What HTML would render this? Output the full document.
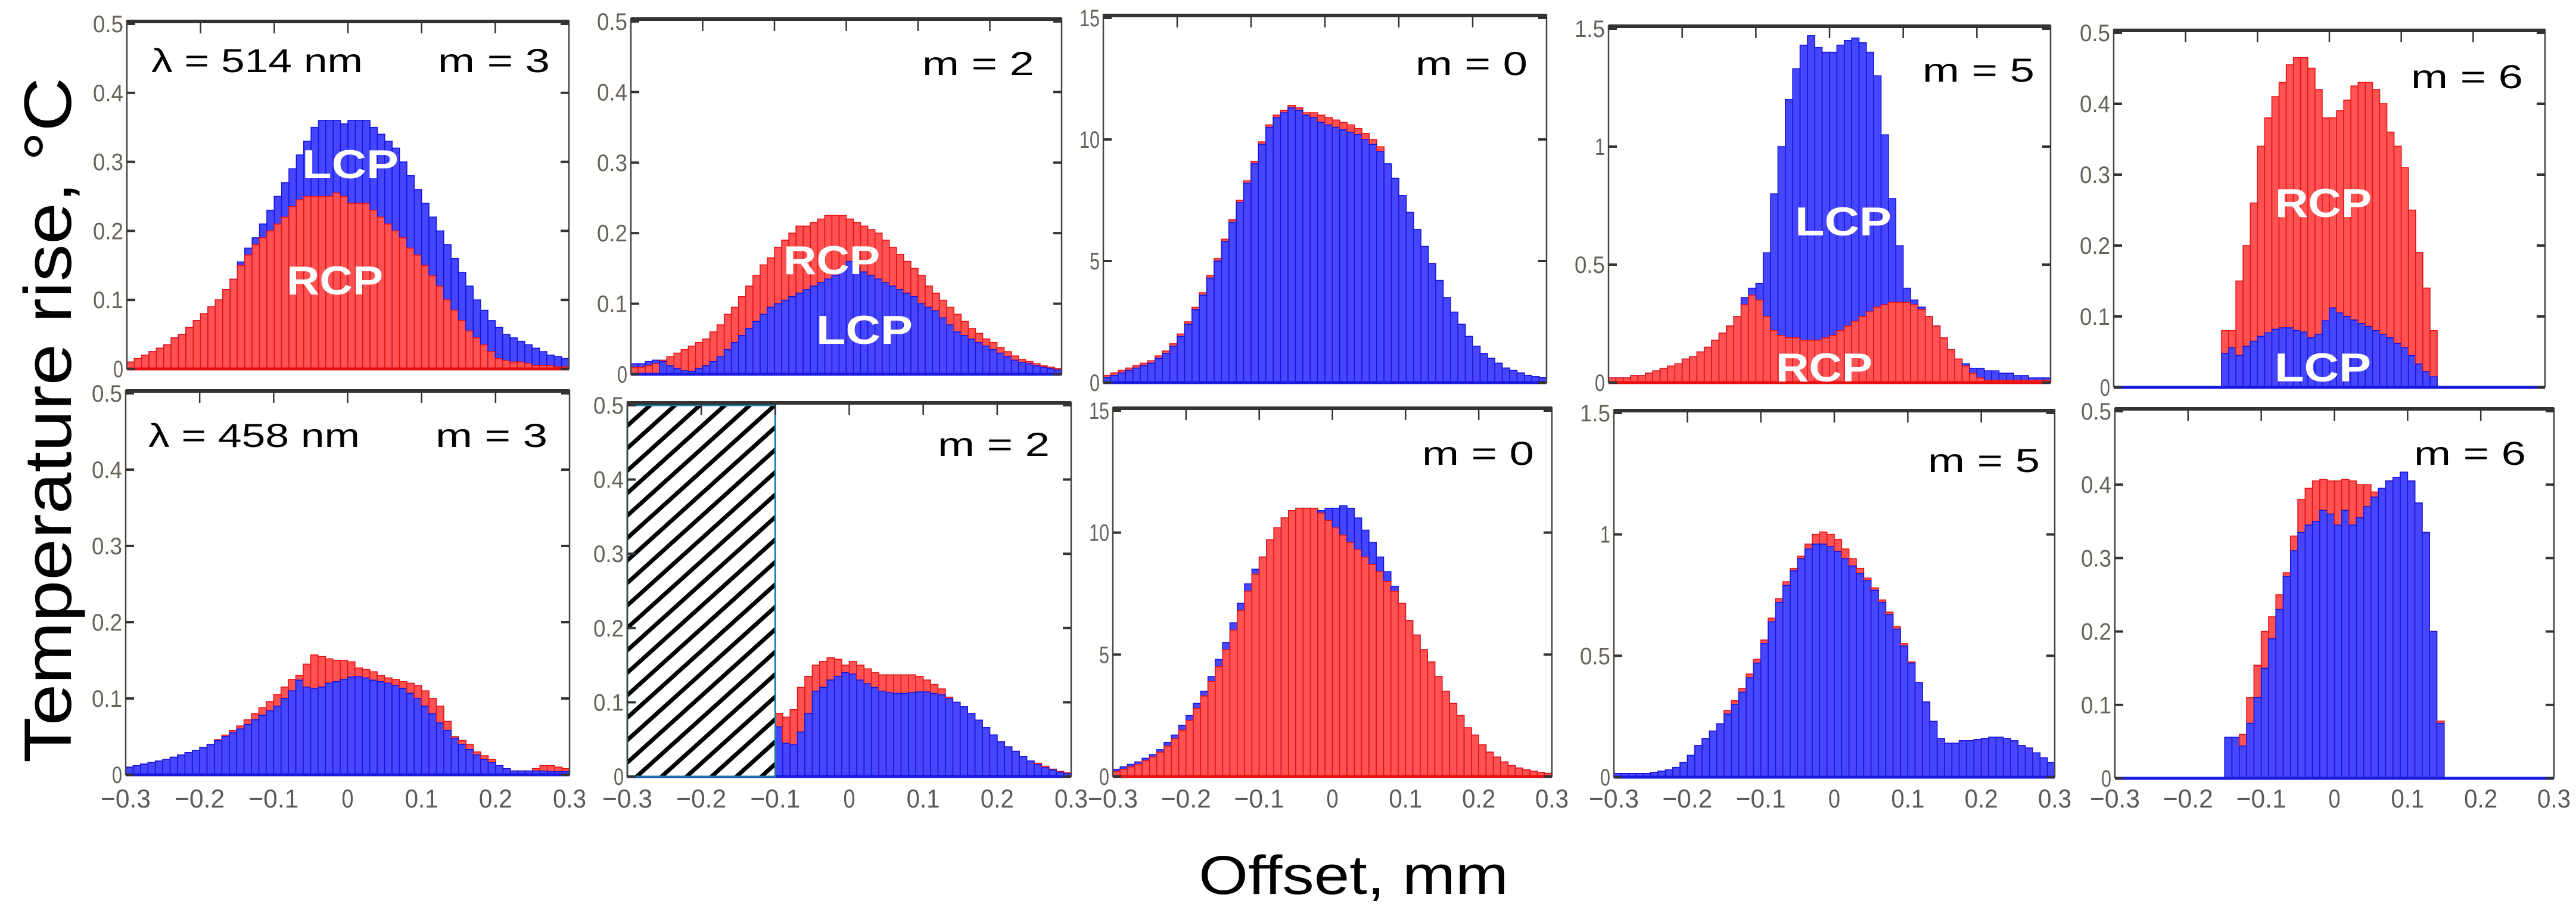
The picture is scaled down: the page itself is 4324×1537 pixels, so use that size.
<!DOCTYPE html>
<html><head><meta charset="utf-8"><style>
html,body{margin:0;padding:0;background:#fff;}
svg{display:block;}
</style></head><body>
<svg id="chart" xmlns="http://www.w3.org/2000/svg" width="4324" height="1537" viewBox="0 0 4324 1537">
<defs>
<pattern id="hatch" patternUnits="userSpaceOnUse" width="28" height="28" patternTransform="rotate(48)">
<rect x="0" y="0" width="28" height="28" fill="#fff"/>
<rect x="0" y="0" width="7" height="28" fill="#000"/>
</pattern>
</defs>
<rect x="0" y="0" width="4324" height="1537" fill="#fff"/>
<text transform="translate(119,705) rotate(-90)" text-anchor="middle" font-family="Liberation Sans, sans-serif" font-size="112" fill="#000" textLength="1150" lengthAdjust="spacingAndGlyphs">Temperature rise, °C</text>
<text x="2272" y="1500" text-anchor="middle" font-family="Liberation Sans, sans-serif" font-size="92" fill="#000" textLength="520" lengthAdjust="spacingAndGlyphs">Offset, mm</text>
</svg>
<script>
// ---- data (bins of 0.01 mm from -0.3 to 0.3; 60 bins) ----
const binStarts = [-0.3,-0.29,-0.28,-0.27,-0.26,-0.25,-0.24,-0.23,-0.22,-0.21,-0.2,-0.19,-0.18,-0.17,-0.16,-0.15,-0.14,-0.13,-0.12,-0.11,-0.1,-0.09,-0.08,-0.07,-0.06,-0.05,-0.04,-0.03,-0.02,-0.01,0,0.01,0.02,0.03,0.04,0.05,0.06,0.07,0.08,0.09,0.1,0.11,0.12,0.13,0.14,0.15,0.16,0.17,0.18,0.19,0.2,0.21,0.22,0.23,0.24,0.25,0.26,0.27,0.28,0.29];
const binWidth = 0.01;

const aRcp = [0.01,0.015,0.02,0.025,0.03,0.035,0.045,0.05,0.06,0.07, 0.08,0.09,0.10,0.115,0.13,0.15,0.165,0.18,0.19,0.20, 0.21,0.22,0.235,0.245,0.25,0.25,0.25,0.25,0.255,0.25, 0.24,0.24,0.24,0.23,0.22,0.21,0.20,0.19,0.175,0.165, 0.15,0.135,0.12,0.10,0.085,0.07,0.055,0.045,0.035,0.025, 0.015,0.012,0.01,0.01,0.008,0.005,0.005,0.005,0.003,0.003];
const aLcp = [0.01,0.015,0.02,0.025,0.03,0.035,0.045,0.05,0.06,0.07, 0.08,0.09,0.10,0.115,0.13,0.155,0.175,0.19,0.21,0.23, 0.25,0.27,0.29,0.31,0.33,0.35,0.36,0.36,0.36,0.355, 0.36,0.36,0.36,0.35,0.34,0.33,0.32,0.30,0.28,0.26, 0.24,0.22,0.20,0.18,0.16,0.14,0.12,0.10,0.085,0.07, 0.06,0.05,0.045,0.04,0.035,0.03,0.025,0.02,0.018,0.015];

const bRcp = [0.01,0.01,0.012,0.015,0.02,0.025,0.03,0.035,0.04,0.045, 0.05,0.06,0.07,0.085,0.095,0.11,0.125,0.14,0.155,0.165, 0.18,0.19,0.2,0.21,0.21,0.215,0.22,0.225,0.225,0.225, 0.22,0.215,0.21,0.205,0.2,0.19,0.18,0.17,0.16,0.15, 0.14,0.125,0.115,0.105,0.095,0.085,0.075,0.065,0.058,0.05, 0.045,0.038,0.032,0.026,0.021,0.018,0.015,0.012,0.01,0.008];
const bLcp = [0.015,0.015,0.018,0.02,0.018,0.012,0.008,0.005,0.004,0.008, 0.012,0.018,0.025,0.035,0.045,0.055,0.065,0.075,0.085,0.095, 0.10,0.105,0.11,0.115,0.12,0.125,0.13,0.135,0.14,0.15, 0.16,0.15,0.145,0.14,0.135,0.13,0.125,0.12,0.115,0.11, 0.10,0.095,0.09,0.08,0.07,0.06,0.055,0.05,0.045,0.04, 0.035,0.03,0.025,0.02,0.017,0.015,0.012,0.01,0.008,0.006];

const cLcp = [0.2,0.3,0.4,0.5,0.6,0.7,0.8,1.0,1.2,1.5, 1.9,2.4,3.0,3.6,4.3,5.0,5.8,6.6,7.4,8.2, 9.0,9.8,10.5,10.9,11.1,11.3,11.2,11.0,10.9,10.7, 10.6,10.5,10.4,10.3,10.2,10.0,9.8,9.5,9.0,8.4, 7.7,7.0,6.3,5.6,4.9,4.2,3.5,2.9,2.4,1.9, 1.5,1.2,1.0,0.8,0.6,0.5,0.4,0.3,0.25,0.2];
const cRcp = [0.3,0.4,0.5,0.6,0.7,0.8,0.9,1.1,1.3,1.6, 2.0,2.5,3.1,3.7,4.4,5.1,5.9,6.7,7.5,8.3, 9.1,9.9,10.6,11.0,11.2,11.4,11.3,11.1,11.1,11.0, 10.9,10.8,10.7,10.6,10.45,10.25,10.0,9.7,9.0,8.4, 7.7,7.0,6.3,5.6,4.9,4.2,3.5,2.9,2.4,1.9, 1.5,1.2,1.0,0.8,0.6,0.5,0.4,0.3,0.25,0.2];

const dRcp = [0.02,0.02,0.02,0.03,0.03,0.04,0.05,0.06,0.07,0.08, 0.10,0.11,0.13,0.15,0.18,0.21,0.24,0.28,0.33,0.37, 0.35,0.28,0.22,0.20,0.19,0.19,0.18,0.18,0.18,0.19, 0.20,0.22,0.24,0.26,0.28,0.30,0.32,0.33,0.34,0.34, 0.34,0.33,0.31,0.28,0.24,0.19,0.14,0.10,0.07,0.04, 0.02,0.01,0.01,0.01,0.01,0.01,0.01,0.01,0.01,0.01];
const dLcp = [0.02,0.02,0.02,0.03,0.03,0.04,0.05,0.06,0.07,0.08, 0.10,0.11,0.13,0.15,0.18,0.21,0.24,0.28,0.36,0.40, 0.42,0.55,0.80,1.00,1.20,1.33,1.43,1.47,1.42,1.40, 1.40,1.43,1.45,1.46,1.44,1.40,1.30,1.05,0.78,0.58, 0.40,0.35,0.32,0.28,0.24,0.19,0.14,0.10,0.08,0.06, 0.06,0.05,0.05,0.04,0.04,0.03,0.03,0.02,0.02,0.02];

const eRcp = [0,0,0,0,0,0,0,0,0,0,0,0,0,0,0, 0.08,0.08,0.15,0.2,0.26,0.34,0.38,0.41,0.43,0.455, 0.465,0.465,0.45,0.42,0.38,0.38,0.39,0.405,0.425,0.43, 0.43,0.42,0.40,0.36,0.34,0.31,0.25,0.19,0.14,0.08, 0,0,0,0,0,0,0,0,0,0,0,0,0,0,0];
const eLcp = [0,0,0,0,0,0,0,0,0,0,0,0,0,0,0, 0.048,0.056,0.045,0.058,0.065,0.072,0.077,0.082,0.084,0.084, 0.08,0.078,0.07,0.075,0.094,0.112,0.105,0.10,0.095,0.09, 0.086,0.08,0.075,0.07,0.062,0.056,0.045,0.033,0.022,0.015, 0,0,0,0,0,0,0,0,0,0,0,0,0,0,0];

const fLcp = [0.01,0.012,0.014,0.016,0.018,0.02,0.023,0.026,0.029,0.032, 0.036,0.04,0.045,0.05,0.055,0.06,0.066,0.072,0.078,0.084, 0.09,0.1,0.11,0.124,0.115,0.113,0.115,0.12,0.122,0.125, 0.128,0.129,0.127,0.124,0.122,0.12,0.117,0.113,0.107,0.1, 0.09,0.08,0.068,0.058,0.048,0.04,0.033,0.026,0.02,0.016, 0.012,0.008,0.005,0.005,0.005,0.005,0.005,0.004,0.004,0.004];
const fRcp = [0.01,0.012,0.014,0.016,0.018,0.02,0.023,0.026,0.029,0.032, 0.036,0.04,0.046,0.052,0.058,0.064,0.072,0.08,0.088,0.096, 0.105,0.115,0.125,0.13,0.145,0.157,0.155,0.152,0.15,0.15, 0.148,0.14,0.138,0.135,0.13,0.127,0.125,0.122,0.12,0.117, 0.11,0.1,0.09,0.07,0.05,0.045,0.04,0.03,0.025,0.02, 0.012,0.008,0.005,0.005,0.005,0.008,0.012,0.012,0.01,0.008];

const gLcp = [0,0,0,0,0,0,0,0,0,0,0,0,0,0,0,0,0,0,0,0, 0.067,0.045,0.043,0.06,0.085,0.115,0.12,0.13,0.135,0.14, 0.138,0.13,0.125,0.12,0.115,0.113,0.112,0.112,0.113,0.114, 0.114,0.112,0.11,0.105,0.1,0.094,0.085,0.076,0.066,0.056, 0.047,0.04,0.034,0.027,0.021,0.016,0.012,0.009,0.006,0.004];
const gRcp = [0,0,0,0,0,0,0,0,0,0,0,0,0,0,0,0,0,0,0,0, 0.085,0.08,0.09,0.12,0.135,0.15,0.155,0.16,0.158,0.15, 0.155,0.15,0.145,0.14,0.137,0.137,0.137,0.137,0.137,0.135, 0.13,0.124,0.118,0.107,0.1,0.094,0.085,0.076,0.066,0.056, 0.047,0.04,0.034,0.027,0.021,0.018,0.014,0.01,0.007,0.005];

const hRcp = [0.2,0.3,0.4,0.5,0.65,0.8,1.0,1.25,1.55,1.9, 2.3,2.8,3.3,3.9,4.5,5.2,6.0,6.8,7.6,8.3, 9.0,9.7,10.2,10.6,10.9,11.0,11.0,11.0,10.8,10.5, 10.2,9.9,9.6,9.3,9.0,8.7,8.4,8.0,7.6,7.1, 6.4,5.8,5.2,4.7,4.1,3.5,3.0,2.5,2.0,1.7, 1.3,1.0,0.8,0.6,0.45,0.35,0.28,0.22,0.17,0.13];
const hLcp = [0.3,0.4,0.5,0.6,0.75,0.9,1.1,1.4,1.7,2.1, 2.5,3.0,3.5,4.1,4.8,5.5,6.3,7.1,7.9,8.5, 9.0,9.7,10.2,10.6,10.9,11.0,11.0,11.0,10.9,11.0, 11.0,11.1,11.0,10.6,10.1,9.6,9.0,8.4,7.8,7.1, 6.4,5.8,5.2,4.7,4.1,3.5,3.0,2.5,2.0,1.7, 1.3,1.0,0.8,0.6,0.45,0.35,0.28,0.22,0.17,0.13];

const iLcp = [0.015,0.015,0.015,0.015,0.015,0.02,0.025,0.03,0.04,0.06, 0.09,0.13,0.16,0.19,0.22,0.26,0.30,0.35,0.41,0.47, 0.55,0.64,0.72,0.79,0.85,0.9,0.94,0.96,0.96,0.95, 0.93,0.9,0.87,0.84,0.81,0.77,0.72,0.67,0.61,0.54, 0.47,0.39,0.31,0.23,0.16,0.14,0.14,0.15,0.15,0.155, 0.16,0.165,0.165,0.16,0.15,0.13,0.12,0.1,0.08,0.06];
const iRcp = [0.015,0.015,0.015,0.015,0.015,0.02,0.025,0.03,0.04,0.06, 0.09,0.13,0.16,0.19,0.22,0.275,0.315,0.365,0.425,0.485, 0.565,0.655,0.735,0.805,0.86,0.91,0.96,1.0,1.01,1.0, 0.98,0.94,0.9,0.86,0.82,0.78,0.73,0.68,0.62,0.55, 0.475,0.39,0.31,0.23,0.16,0.14,0.14,0.15,0.15,0.155, 0.16,0.165,0.165,0.16,0.15,0.13,0.12,0.1,0.08,0.06];

const jLcp = [0,0,0,0,0,0,0,0,0,0,0,0,0,0,0, 0.056,0.056,0.044,0.075,0.11,0.15,0.19,0.23,0.275,0.31, 0.335,0.345,0.35,0.365,0.36,0.345,0.365,0.345,0.355,0.37, 0.383,0.395,0.405,0.41,0.417,0.405,0.375,0.335,0.2,0.075, 0,0,0,0,0,0,0,0,0,0,0,0,0,0,0];
const jRcp = [0,0,0,0,0,0,0,0,0,0,0,0,0,0,0, 0,0,0.06,0.11,0.154,0.2,0.22,0.25,0.28,0.33, 0.38,0.395,0.405,0.407,0.405,0.405,0.407,0.405,0.40,0.40, 0.39,0.395,0.405,0.41,0.417,0.405,0.375,0.335,0.2,0.078, 0,0,0,0,0,0,0,0,0,0,0,0,0,0,0];

// tick values & labels
const yTicksSmall = [0,0.1,0.2,0.3,0.4,0.5];
const yLabelsSmall = ["0","0.1","0.2","0.3","0.4","0.5"];
const yTicksM0 = [0,5,10,15];
const yLabelsM0 = ["0","5","10","15"];
const yTicksM5 = [0,0.5,1,1.5];
const yLabelsM5 = ["0","0.5","1","1.5"];
const xTicks = [-0.3,-0.2,-0.1,0,0.1,0.2,0.3];
const xTickLabels = ["\u22120.3","\u22120.2","\u22120.1","0","0.1","0.2","0.3"];

// ---- layout (positions only) ----
const panels = [
 {id:'a', x0:213,x1:955,yT:40,yB:619, ymax:0.5, ticks:yTicksSmall, labels:yLabelsSmall, rcp:aRcp, lcp:aLcp, front:'rcp', base:'#e81010', xl:false, mode:'m = 3', mx:923, my:121, lam:'λ = 514 nm', lx:254},
 {id:'b', x0:1059,x1:1782,yT:36,yB:628, ymax:0.5, ticks:yTicksSmall, labels:yLabelsSmall, rcp:bRcp, lcp:bLcp, front:'lcp', base:'#1a1ae0', xl:false, mode:'m = 2', mx:1736, my:126},
 {id:'c', x0:1852,x1:2596,yT:30,yB:642, ymax:15, ticks:yTicksM0, labels:yLabelsM0, rcp:cRcp, lcp:cLcp, front:'lcp', base:'#1a1ae0', xl:false, mode:'m = 0', mx:2564, my:126},
 {id:'d', x0:2700,x1:3442,yT:48,yB:642, ymax:1.5, ticks:yTicksM5, labels:yLabelsM5, rcp:dRcp, lcp:dLcp, front:'rcp', base:'#e81010', xl:false, mode:'m = 5', mx:3415, my:137},
 {id:'e', x0:3548,x1:4272,yT:55,yB:650, ymax:0.5, ticks:yTicksSmall, labels:yLabelsSmall, rcp:eRcp, lcp:eLcp, front:'lcp', base:'#1a1ae0', xl:false, mode:'m = 6', mx:4235, my:148},
 {id:'f', x0:211,x1:956,yT:660,yB:1300, ymax:0.5, ticks:yTicksSmall, labels:yLabelsSmall, rcp:fRcp, lcp:fLcp, front:'lcp', base:'#1a1ae0', xl:true, mode:'m = 3', mx:919, my:750, lam:'λ = 458 nm', lx:249},
 {id:'g', x0:1053,x1:1798,yT:680,yB:1303, ymax:0.5, ticks:yTicksSmall, labels:yLabelsSmall, rcp:gRcp, lcp:gLcp, front:'lcp', base:'#1a1ae0', xl:true, mode:'m = 2', mx:1762, my:765, hatch:true},
 {id:'h', x0:1868,x1:2605,yT:689,yB:1303, ymax:15, ticks:yTicksM0, labels:yLabelsM0, rcp:hRcp, lcp:hLcp, front:'rcp', base:'#e81010', xl:true, mode:'m = 0', mx:2575, my:780},
 {id:'i', x0:2709,x1:3449,yT:693,yB:1304, ymax:1.5, ticks:yTicksM5, labels:yLabelsM5, rcp:iRcp, lcp:iLcp, front:'lcp', base:'#1a1ae0', xl:true, mode:'m = 5', mx:3424, my:792},
 {id:'j', x0:3550,x1:4287,yT:690,yB:1306, ymax:0.5, ticks:yTicksSmall, labels:yLabelsSmall, rcp:jRcp, lcp:jLcp, front:'lcp', base:'#1a1ae0', xl:true, mode:'m = 6', mx:4240, my:780}
];
const polLabels = [
 {p:'a', t:'LCP', x:588, y:274}, {p:'a', t:'RCP', x:562, y:469},
 {p:'b', t:'RCP', x:1396, y:435}, {p:'b', t:'LCP', x:1451, y:552},
 {p:'d', t:'LCP', x:3094, y:370}, {p:'d', t:'RCP', x:3062, y:615},
 {p:'e', t:'RCP', x:3900, y:339}, {p:'e', t:'LCP', x:3899, y:615}
];

const NS = 'http://www.w3.org/2000/svg';
const svg = document.getElementById('chart');
const FONT = 'Liberation Sans, sans-serif';

function el(tag, parent){ const e = document.createElementNS(NS, tag); parent.appendChild(e); return e; }

const RED = {fill:'#ff5252', stroke:'#e41414'};
const BLUE = {fill:'#4646ff', stroke:'#1515dc'};

panels.forEach(P => {
  const g = el('g', svg);
  
  
  const xs = v => P.x0 + (v + 0.3) / 0.6 * (P.x1 - P.x0);
  const ys = v => P.yB - v / P.ymax * (P.yB - P.yT);

  const bars = el('g', g);
  
  
  for (let i = 0; i < binStarts.length; i++) {
    const xl = xs(binStarts[i]), xr = xs(binStarts[i] + binWidth);
    const items = [{v:P.rcp[i], c:RED, n:'rcp'}, {v:P.lcp[i], c:BLUE, n:'lcp'}];
    items.sort((a,b) => (b.v - a.v) || ((a.n === P.front) ? 1 : -1));
    items.forEach(it => {
      if (it.v <= 0) return;
      const r = el('rect', bars);
      
      
      r.setAttribute('x', xl);
      r.setAttribute('y', ys(it.v));
      r.setAttribute('width', Math.max(0.5, xr - xl));
      r.setAttribute('height', P.yB - ys(it.v));
      r.setAttribute('fill', it.c.fill);
      r.setAttribute('stroke', it.c.stroke);
      r.setAttribute('stroke-width', '1.6');
    });
  }
  const bl = el('line', g);
  
  
  bl.setAttribute('x1', P.x0); bl.setAttribute('x2', P.x1);
  bl.setAttribute('y1', P.yB); bl.setAttribute('y2', P.yB);
  bl.setAttribute('stroke', P.base); bl.setAttribute('stroke-width', '5');

  if (P.hatch) {
    const h = el('rect', g);
    
    
    h.setAttribute('x', xs(-0.3)); h.setAttribute('y', ys(0.5));
    h.setAttribute('width', xs(-0.1) - xs(-0.3)); h.setAttribute('height', P.yB - ys(0.5));
    h.setAttribute('fill', 'url(#hatch)'); h.setAttribute('stroke', '#1f7fa0'); h.setAttribute('stroke-width', '3');
  }

  const fl = el('line', g);
  
  
  fl.setAttribute('x1', P.x0); fl.setAttribute('x2', P.x0); fl.setAttribute('y1', P.yT - 6); fl.setAttribute('y2', P.yB);
  fl.setAttribute('stroke', '#444'); fl.setAttribute('stroke-width', '2.5');
  const fr = el('line', g);
  
  
  fr.setAttribute('x1', P.x1); fr.setAttribute('x2', P.x1); fr.setAttribute('y1', P.yT - 6); fr.setAttribute('y2', P.yB);
  fr.setAttribute('stroke', '#444'); fr.setAttribute('stroke-width', '2.5');
  const ft = el('line', g);
  
  
  ft.setAttribute('x1', P.x0); ft.setAttribute('x2', P.x1); ft.setAttribute('y1', P.yT - 4); ft.setAttribute('y2', P.yT - 4);
  ft.setAttribute('stroke', '#333'); ft.setAttribute('stroke-width', '6');

  xTicks.slice(1, -1).forEach(v => {
    const t = el('line', g);
    
    
    t.setAttribute('x1', xs(v)); t.setAttribute('x2', xs(v));
    t.setAttribute('y1', P.yT - 4); t.setAttribute('y2', P.yT + 16);
    t.setAttribute('stroke', '#333'); t.setAttribute('stroke-width', '2.5');
  });
  P.ticks.forEach((v, k) => {
    [[P.x0, P.x0 + 14], [P.x1 - 14, P.x1]].forEach(pp => {
      const t = el('line', g);
      
      
      t.setAttribute('x1', pp[0]); t.setAttribute('x2', pp[1]);
      t.setAttribute('y1', ys(v)); t.setAttribute('y2', ys(v));
      t.setAttribute('stroke', '#333'); t.setAttribute('stroke-width', '4');
    });
    const lab = el('text', g);
    
    
    lab.setAttribute('x', P.x0 - 6); lab.setAttribute('y', ys(v) + 14);
    lab.setAttribute('text-anchor', 'end');
    lab.setAttribute('font-family', FONT); lab.setAttribute('font-size', '40');
    lab.setAttribute('fill', '#66625a');
    lab.setAttribute('textLength', P.labels[k].length * 17);
    lab.setAttribute('lengthAdjust', 'spacingAndGlyphs');
    lab.textContent = P.labels[k];
  });
  if (P.xl) {
    xTicks.forEach((v, k) => {
      const lab = el('text', g);
      
      
      lab.setAttribute('x', xs(v)); lab.setAttribute('y', 1355);
      lab.setAttribute('text-anchor', 'middle');
      lab.setAttribute('font-family', FONT); lab.setAttribute('font-size', '44');
      lab.setAttribute('fill', '#5a5a5a');
      lab.setAttribute('textLength', xTickLabels[k].length === 1 ? 20 : (xTickLabels[k].length === 3 ? 56 : 84));
      lab.setAttribute('lengthAdjust', 'spacingAndGlyphs');
      lab.textContent = xTickLabels[k];
    });
  }
  const m = el('text', g);
  
  
  m.setAttribute('x', P.mx); m.setAttribute('y', P.my);
  m.setAttribute('text-anchor', 'end');
  m.setAttribute('font-family', FONT); m.setAttribute('font-size', '56');
  m.setAttribute('textLength', '188'); m.setAttribute('lengthAdjust', 'spacingAndGlyphs');
  m.textContent = P.mode;
  if (P.lam) {
    const l = el('text', g);
    
    
    l.setAttribute('x', P.lx); l.setAttribute('y', P.my);
    l.setAttribute('font-family', FONT); l.setAttribute('font-size', '56');
    l.setAttribute('textLength', '355'); l.setAttribute('lengthAdjust', 'spacingAndGlyphs');
    l.textContent = P.lam;
  }
});

polLabels.forEach(L => {
  const t = el('text', svg);
  
  
  t.setAttribute('x', L.x); t.setAttribute('y', L.y + 25);
  t.setAttribute('text-anchor', 'middle');
  t.setAttribute('font-family', FONT); t.setAttribute('font-size', '68'); t.setAttribute('font-weight', 'bold');
  t.setAttribute('fill', '#fff');
  t.setAttribute('textLength', '162'); t.setAttribute('lengthAdjust', 'spacingAndGlyphs');
  t.textContent = L.t;
});
</script>
</body></html>
